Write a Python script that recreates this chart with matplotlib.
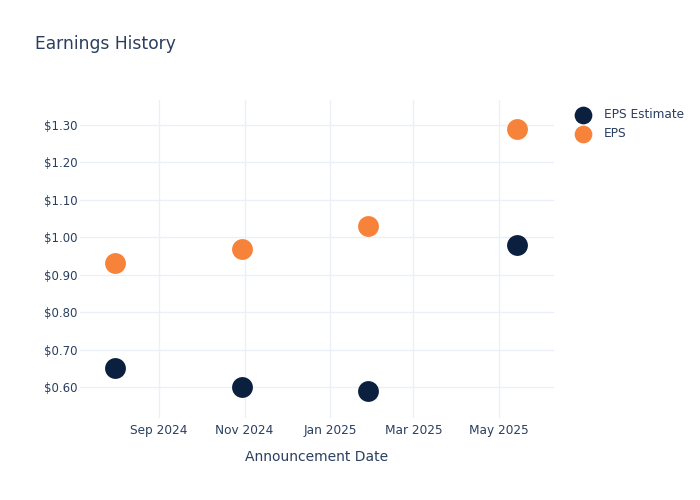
import matplotlib
matplotlib.use("Agg")
import matplotlib.pyplot as plt
from matplotlib.ticker import FuncFormatter
import pandas as pd

dates = ["2024-08-01", "2024-10-30", "2025-01-28", "2025-05-14"]
eps_estimate = [0.65, 0.60, 0.59, 0.98]
eps_actual = [0.93, 0.97, 1.03, 1.29]
x_ticks = ["2024-09-01", "2024-11-01", "2025-01-01", "2025-03-01", "2025-05-01"]
y_ticks = [0.60, 0.70, 0.80, 0.90, 1.00, 1.10, 1.20, 1.30]

txt = "#2a3f5f"
grid = "#ebf0f8"

x = pd.to_datetime(dates)
fig = plt.figure(figsize=(7, 5), dpi=100)
ax = fig.add_axes([80/700, 1-418/500, (554-80)/700, (418-100)/500])

ax.scatter(x, eps_estimate, s=225, color="#0b1f3f", label="EPS Estimate", zorder=3, linewidths=0)
ax.scatter(x, eps_actual, s=225, color="#f7823a", label="EPS", zorder=3, linewidths=0)

ax.set_xlim(pd.Timestamp("2024-07-07"), pd.Timestamp("2025-06-09"))
ax.set_ylim(0.517, 1.367)
xt = pd.to_datetime(x_ticks)
ax.set_xticks(xt)
ax.set_xticklabels([d.strftime("%b %Y") for d in xt])
ax.set_yticks(y_ticks)
ax.yaxis.set_major_formatter(FuncFormatter(lambda v, p: f"${v:.2f}"))
ax.grid(True, color=grid, linewidth=1)
ax.set_axisbelow(True)
for s in ax.spines.values():
    s.set_visible(False)
ax.tick_params(axis="x", length=0, colors=txt, labelsize=8.7, pad=4)
ax.tick_params(axis="y", length=0, colors=txt, labelsize=8.5, pad=2)
ax.set_xlabel("Announcement Date", color=txt, fontsize=10, labelpad=9.5)

fig.text(35/700, 1-44/500, "Earnings History", color=txt, fontsize=12.3, va="center", ha="left")

leg = fig.legend(loc="upper left", bbox_to_anchor=(566/700, 1-103/500), frameon=False,
                 fontsize=8.7, labelcolor=txt, handletextpad=0.75, borderaxespad=0,
                 labelspacing=0.55, markerscale=0.85)

fig.savefig("out.png", dpi=100)
